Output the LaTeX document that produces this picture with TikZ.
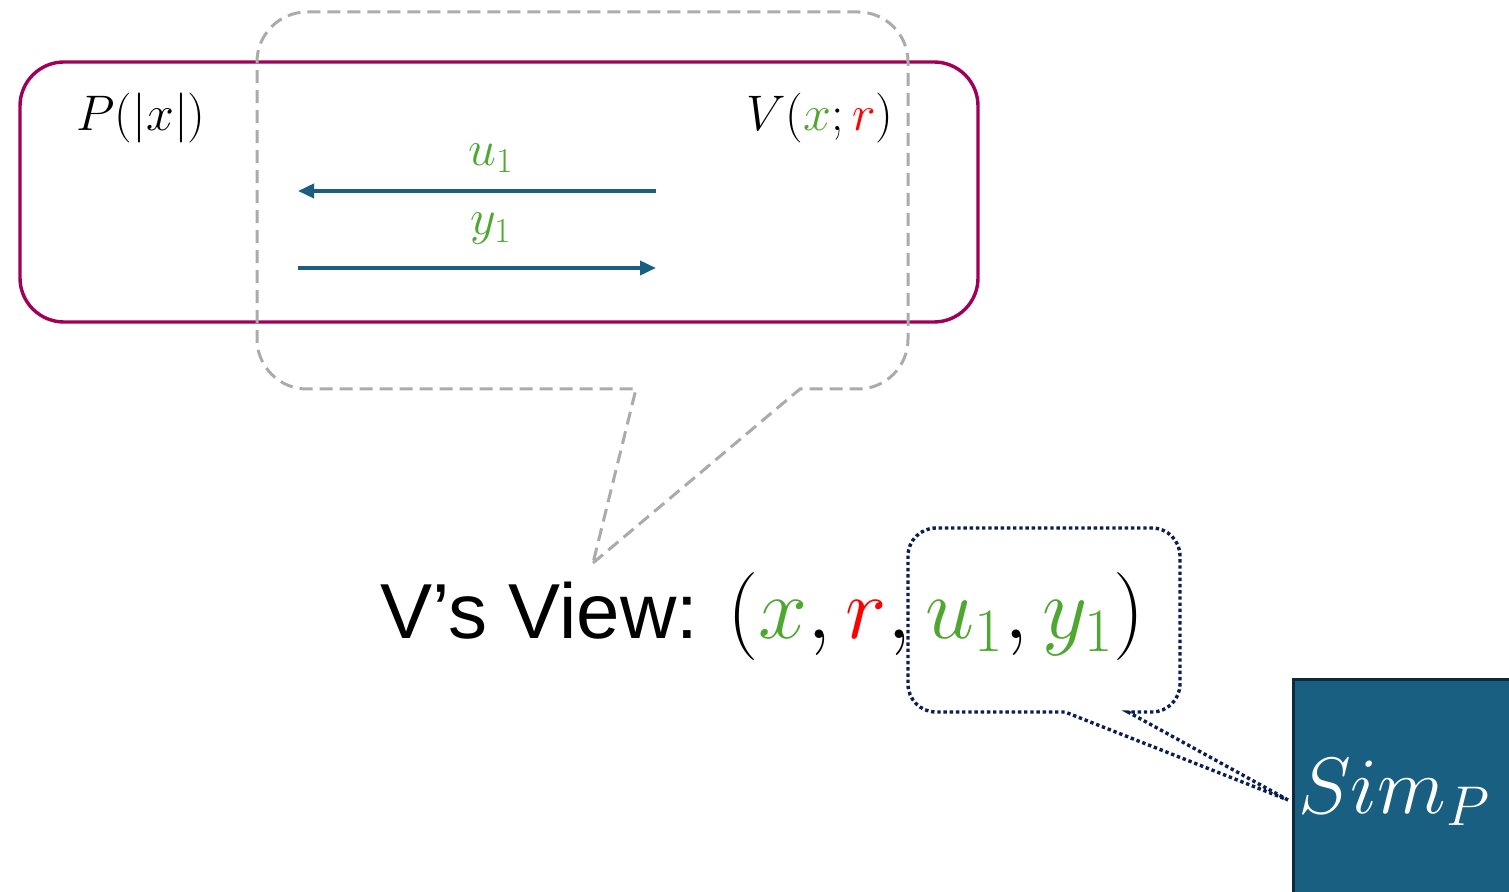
\RequirePackage{fix-cm}
\documentclass[tikz,border=0pt]{standalone}
\usepackage{fontspec}
\newfontfamily\arialf{Liberation Sans}
\usetikzlibrary{arrows.meta}
\definecolor{plum}{RGB}{160,0,90}
\definecolor{calloutgray}{RGB}{171,171,171}
\definecolor{msgblue}{RGB}{26,94,128}
\definecolor{leafgreen}{RGB}{78,167,46}
\definecolor{navydot}{RGB}{10,30,80}
\definecolor{simfill}{RGB}{24,95,129}
\definecolor{simedge}{RGB}{13,42,60}
\tikzset{
  partybox/.style={draw=plum, line width=1.7pt, rounded corners=22pt},
  graycallout/.style={draw=calloutgray, line width=1.5pt, dash pattern=on 6.5pt off 3.5pt},
  navycallout/.style={draw=navydot, line width=1.7pt, dash pattern=on 1.7pt off 1.4pt},
  msg/.style={draw=msgblue, line width=1.8pt, -{Triangle[length=8pt,width=7pt]}},
  lbl/.style={inner sep=0pt, font=\fontsize{25}{29}\selectfont},
  msglbl/.style={inner sep=0pt, text=leafgreen, font=\fontsize{25}{29}\selectfont},
}
\newcommand{\gx}{\textcolor{leafgreen}}
\newcommand{\rx}{\textcolor{red}}
\begin{document}
\begin{tikzpicture}[x=0.5pt, y=-0.5pt]
  \useasboundingbox (0,0) rectangle (1509,892);
  \clip (0,0) rectangle (1509,892);

  % interaction box
  \draw[partybox] (20,62) rectangle (978,322);

  % dashed speech bubble over the exchange
  \draw[graycallout] (593,563) -- (800,389) [rounded corners=25pt] -- (908,389) -- (908,12)
        -- (257,12) -- (257,389) [sharp corners] -- (636,389) -- cycle;

  % parties
  \node[lbl] (prover) at (141,118) {$P(|x|)$};
  \node[lbl] (verifier) at (820,118) {$V(\gx{x};\rx{r})$};

  % messages
  \coordinate (m1r) at (656,191);
  \coordinate (m1l) at (298,191);
  \coordinate (m2l) at (298,268);
  \coordinate (m2r) at (656,268);
  \draw[msg] (m1r) -- (m1l);
  \draw[msg] (m2l) -- (m2r);
  \node[msglbl] (u) at (491,158) {$u_1$};
  \node[msglbl] (y) at (491,229) {$y_1$};

  % verifier's view
  \node[anchor=base west, inner sep=0pt, font=\fontsize{39}{44}\selectfont] (view) at (380,638)
    {\arialf V’s View: \fontsize{44}{50}\selectfont$(\gx{x},\rx{r},\gx{u_1},\gx{y_1})$};

  % dotted bubble pointing at the simulator
  \draw[navycallout] (1288,800) -- (1128,712) [rounded corners=14pt] -- (1180,712) -- (1180,528)
        -- (908,528) -- (908,712) [sharp corners] -- (1065,712) -- cycle;

  % simulator
  \node[draw=simedge, fill=simfill, line width=1.5pt, minimum width=115pt, minimum height=115pt,
        anchor=north west, inner sep=0pt] (sim) at (1292,678) {};
  \node[text=white, inner sep=0pt, font=\fontsize{40}{46}\selectfont] (simlbl) at (1394,792) {$Sim_P$};
\end{tikzpicture}
\end{document}
